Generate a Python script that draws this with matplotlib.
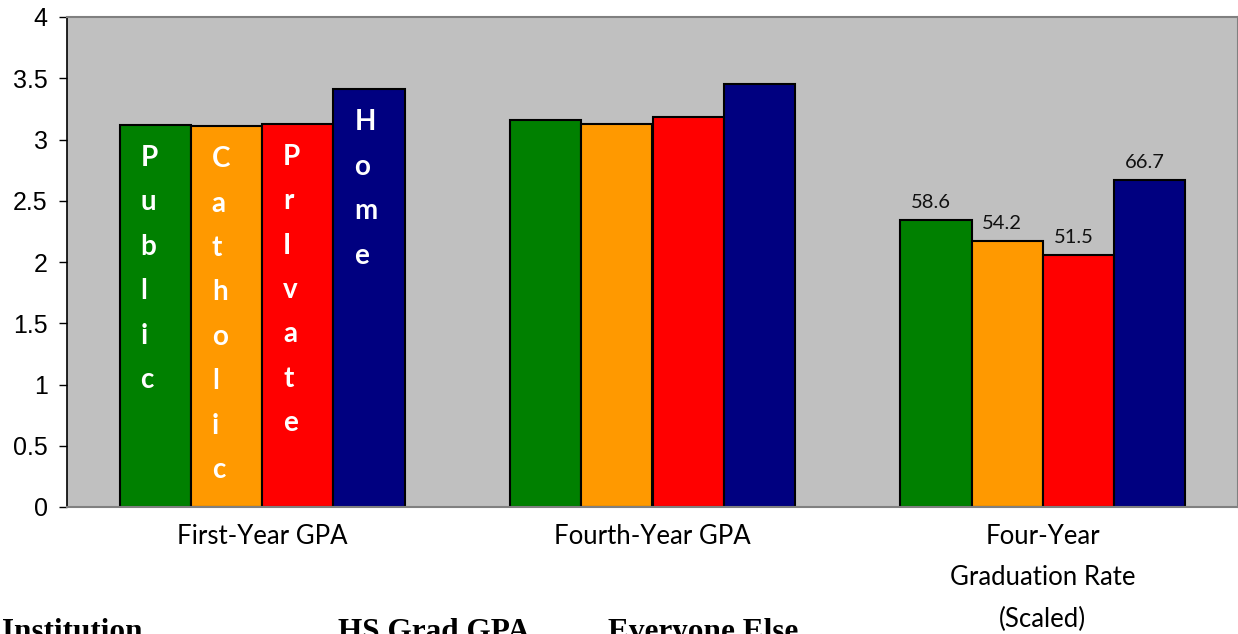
import matplotlib
matplotlib.use('Agg')
import matplotlib.pyplot as plt
import numpy as np

categories = ['First-Year GPA', 'Fourth-Year GPA', 'Four-Year\nGraduation Rate\n(Scaled)']
series_names = ['Public', 'Catholic', 'PrIvate', 'Home']
colors = ['#008000', '#FF9900', '#FF0000', '#000080']
values = {
    'Public':   [3.12, 3.16, 2.34],
    'Catholic': [3.11, 3.13, 2.17],
    'PrIvate':  [3.13, 3.18, 2.06],
    'Home':     [3.41, 3.45, 2.67],
}
grad_labels = ['58.6', '54.2', '51.5', '66.7']
footer = ['Institution', 'HS Grad GPA', 'Everyone Else']

fig = plt.figure(figsize=(12.38, 6.34), dpi=100)
ax = fig.add_axes([67 / 1238, 1 - 507 / 634, 1 - 67 / 1238, 490 / 634])
ax.set_facecolor('#C0C0C0')

x = np.arange(len(categories))
width = 0.1827
for i, name in enumerate(series_names):
    pos = x + (i - 1.5) * width
    bars = ax.bar(pos, values[name], width, color=colors[i], edgecolor='black',
                  linewidth=1.5, zorder=2)
    # stacked letters in the first group
    b = bars[0]
    ax.annotate('\n'.join(name), xy=(b.get_x(), b.get_height()),
                xytext=(21, -20), textcoords='offset pixels',
                ha='left', va='top', color='white', fontweight='bold',
                fontsize=20, family=['Lato', 'DejaVu Sans'], linespacing=1.88,
                zorder=3)
    # value labels on the graduation rate group
    g = bars[2]
    ax.annotate(grad_labels[i], xy=(g.get_x() + g.get_width() / 2, g.get_height()),
                xytext=(-5, 9), textcoords='offset pixels', ha='center', va='bottom',
                fontsize=14.5, family=['Lato', 'DejaVu Sans'], color='#111111', zorder=3)

ax.set_xlim(-0.5, 2.5)
ax.set_ylim(0, 4)
ax.set_yticks(np.arange(0, 4.01, 0.5))
ax.set_yticklabels(['0', '0.5', '1', '1.5', '2', '2.5', '3', '3.5', '4'],
                   family='Liberation Sans', fontsize=18)
ax.tick_params(axis='y', length=6, width=1, pad=8, color='black')
ax.set_xticks(x)
ax.set_xticklabels(categories, family=['Lato', 'DejaVu Sans'], fontsize=18.5,
                   linespacing=1.83, va='top')
ax.tick_params(axis='x', length=0, pad=12)

for side in ['top', 'right', 'bottom']:
    ax.spines[side].set_color('#808080')
    ax.spines[side].set_linewidth(1.5)
ax.spines['left'].set_color('black')
ax.spines['left'].set_linewidth(1.2)

# bold serif legend text at the bottom (partly cut off in the original)
for label, px in zip(footer, [2, 338, 608]):
    fig.text(px / 1238, 1 - 618 / 634, label, ha='left', va='top',
             family='Liberation Serif', fontweight='bold', fontsize=22.5)

fig.savefig('out.png', dpi=100)
plt.close(fig)
